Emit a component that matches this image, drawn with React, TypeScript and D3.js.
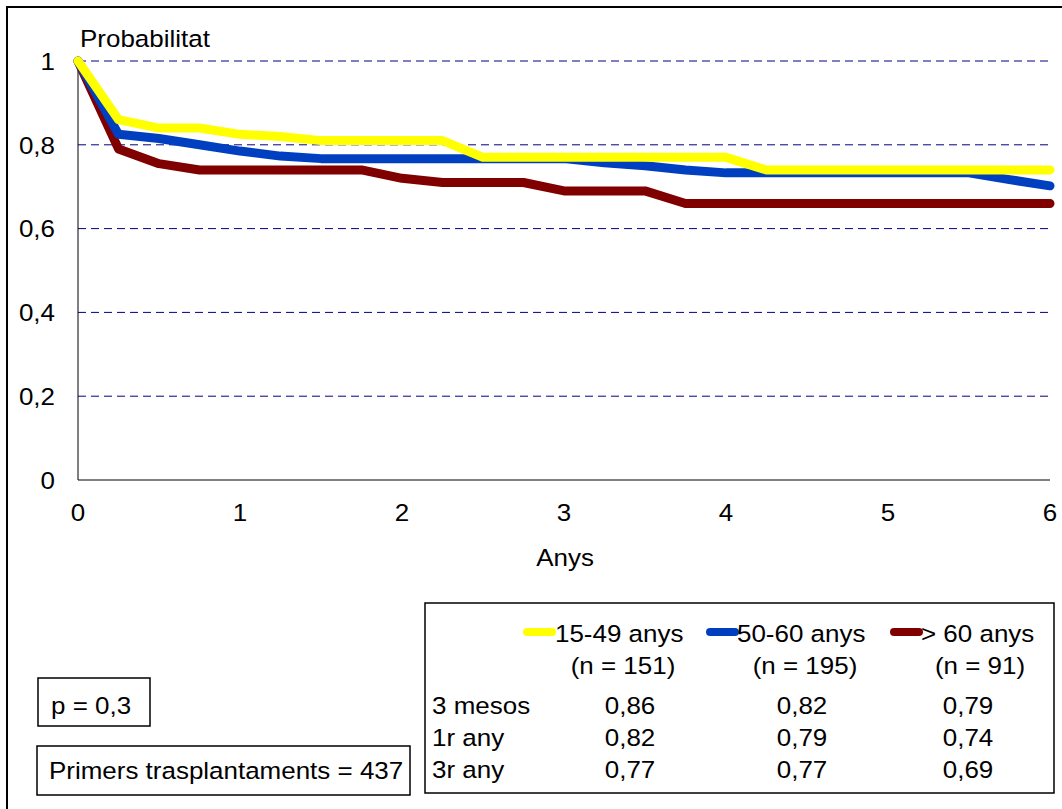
import React from "react";
import * as d3 from "d3";

const times = [0, 0.25, 0.5, 0.75, 1, 1.25, 1.5, 1.75, 2, 2.25, 2.5, 2.75, 3, 3.25, 3.5, 3.75, 4, 4.25, 4.5, 4.75, 5, 5.25, 5.5, 5.75, 6];
const young = [1, 0.86, 0.84, 0.84, 0.825, 0.82, 0.81, 0.81, 0.81, 0.81, 0.77, 0.77, 0.77, 0.77, 0.77, 0.77, 0.77, 0.74, 0.74, 0.74, 0.74, 0.74, 0.74, 0.74, 0.74];
const middle = [1, 0.825, 0.815, 0.8, 0.785, 0.773, 0.767, 0.767, 0.767, 0.767, 0.767, 0.767, 0.767, 0.757, 0.75, 0.74, 0.733, 0.733, 0.733, 0.733, 0.733, 0.733, 0.733, 0.717, 0.702];
const old = [1, 0.79, 0.755, 0.74, 0.74, 0.74, 0.74, 0.74, 0.72, 0.71, 0.71, 0.71, 0.69, 0.69, 0.69, 0.66, 0.66, 0.66, 0.66, 0.66, 0.66, 0.66, 0.66, 0.66, 0.66];

const xTicks = [0, 1, 2, 3, 4, 5, 6];
const yTicks = [0, 0.2, 0.4, 0.6, 0.8, 1];
const yTickLabels = ["0", "0,2", "0,4", "0,6", "0,8", "1"];
const seriesNames = ["15-49 anys", "50-60 anys", "> 60 anys"];
const seriesN = ["(n = 151)", "(n = 195)", "(n = 91)"];
const seriesColors = ["#FFFF00", "#0040C0", "#800000"];
const rowLabels = ["3 mesos", "1r any", "3r any"];
const tableValues = [
  ["0,86", "0,82", "0,79"],
  ["0,82", "0,79", "0,74"],
  ["0,77", "0,77", "0,69"],
];

const FONT = "'Liberation Sans', Arial, sans-serif";
const SX = 1.06;

function T({ x, y, anchor = "start", dy, children }: { x: number; y: number; anchor?: string; dy?: string; children: React.ReactNode }) {
  return (
    <text
      transform={`translate(${x},${y}) scale(${SX},1)`}
      x={0}
      y={0}
      dy={dy}
      textAnchor={anchor}
      fontSize={24.5}
      fill="#000"
    >
      {children}
    </text>
  );
}

export default function App() {
  const x = d3.scaleLinear().domain([0, 6]).range([78, 1050]);
  const y = d3.scaleLinear().domain([0, 1]).range([480, 61]);
  const line = d3
    .line<number>()
    .x((_, i) => x(times[i]))
    .y((d) => y(d));
  const series = [old, middle, young];
  const seriesCol = [seriesColors[2], seriesColors[1], seriesColors[0]];
  const nCenterX = [623, 805, 980];
  const valCenterX = [630, 802, 968];
  const swatchX = [523, 706, 890];
  const nameX = [555, 737, 921];

  return (
    <svg
      width={1062}
      height={809}
      style={{ position: "absolute", left: 0, top: 0, background: "#fff" }}
      fontFamily={FONT}
    >
      <rect x={0} y={0} width={1062} height={809} fill="#fff" />
      <rect x={7} y={7} width={1070} height={820} fill="none" stroke="#000" strokeWidth={2} />

      {/* grid */}
      {yTicks.filter((t) => t > 0).map((t) => (
        <line key={t} x1={x(0)} x2={x(6)} y1={y(t)} y2={y(t)} stroke="#000080" strokeWidth={1} strokeDasharray="8,5" />
      ))}
      {/* axes */}
      <line x1={x(0)} x2={x(6)} y1={y(0)} y2={y(0)} stroke="#000" strokeWidth={1} />
      <line x1={x(0)} x2={x(0)} y1={y(0)} y2={y(1)} stroke="#000" strokeWidth={1} />

      {/* y tick labels */}
      {yTicks.map((t, i) => (
        <T key={t} x={55} y={y(t)} dy="0.36em" anchor="end">
          {yTickLabels[i]}
        </T>
      ))}
      {/* x tick labels */}
      {xTicks.map((t) => (
        <T key={t} x={x(t)} y={521} anchor="middle">
          {t}
        </T>
      ))}
      <T x={565} y={566} anchor="middle">Anys</T>
      <T x={80} y={47}>Probabilitat</T>

      {/* lines */}
      {series.map((s, i) => (
        <path key={i} d={line(s) || ""} fill="none" stroke={seriesCol[i]} strokeWidth={9} strokeLinecap="round" strokeLinejoin="round" />
      ))}

      {/* legend table */}
      <rect x={425} y={603} width={629} height={190} fill="#fff" stroke="#000" strokeWidth={1.5} />
      {seriesNames.map((n, i) => (
        <g key={n}>
          <line x1={swatchX[i] + 4} x2={swatchX[i] + 29} y1={632} y2={632} stroke={seriesColors[i]} strokeWidth={8} strokeLinecap="round" />
          <T x={nameX[i]} y={642}>{n}</T>
          <T x={nCenterX[i]} y={674} anchor="middle">{seriesN[i]}</T>
        </g>
      ))}
      {rowLabels.map((r, ri) => (
        <g key={r}>
          <T x={432} y={713.5 + ri * 32}>{r}</T>
          {tableValues[ri].map((v, ci) => (
            <T key={ci} x={valCenterX[ci]} y={713.5 + ri * 32} anchor="middle">{v}</T>
          ))}
        </g>
      ))}

      {/* p box */}
      <rect x={38} y={678} width={112} height={48} fill="#fff" stroke="#000" strokeWidth={1.5} />
      <T x={51} y={714}>p = 0,3</T>
      <rect x={37} y={746} width={373} height={49} fill="#fff" stroke="#000" strokeWidth={1.5} />
      <T x={49} y={779}>Primers trasplantaments = 437</T>
    </svg>
  );
}
